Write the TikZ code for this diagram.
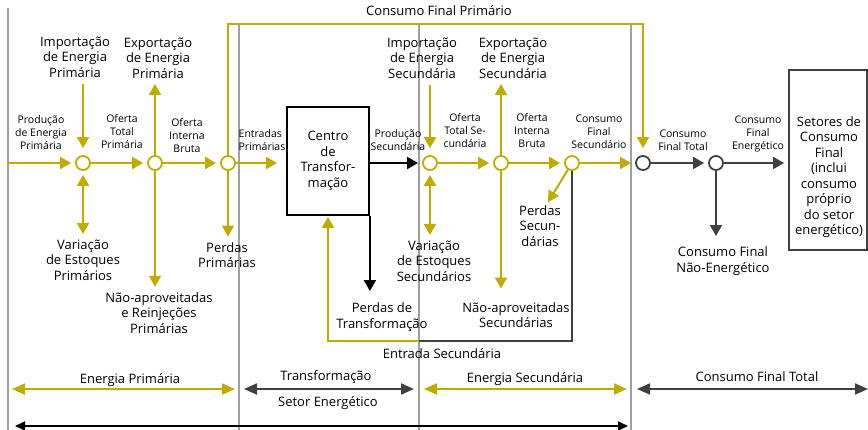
\documentclass[tikz,border=0pt]{standalone}
\usepackage{fontspec}
\setmainfont{Open Sans}
\usetikzlibrary{arrows.meta,positioning}
\definecolor{goldline}{RGB}{192,171,0}
\definecolor{darkline}{RGB}{64,64,64}
\definecolor{sepgray}{RGB}{160,160,160}
\tikzset{
  junc/.style={circle, draw=goldline, line width=1.8pt, fill=white,
               minimum size=14pt, inner sep=0pt},
  juncgray/.style={junc, draw=darkline},
  txtbig/.style={font=\fontsize{13}{15.5}\selectfont, align=center, inner sep=1.5pt},
  txtsmall/.style={font=\fontsize{10.5}{13}\selectfont, align=center, inner sep=1.5pt},
  centrobox/.style={rectangle, draw=black, line width=1.8pt, txtbig,
                    minimum width=82pt, minimum height=108pt},
  finalbox/.style={rectangle, draw=darkline, line width=1.8pt,
                   minimum width=78pt, minimum height=180pt},
  sepline/.style={line width=1.6pt, sepgray},
  arrowY/.style={-{Triangle[length=11pt,width=12pt]}, line width=2pt, goldline, shorten >=4pt},
  arrowYY/.style={{Triangle[length=11pt,width=12pt]}-{Triangle[length=11pt,width=12pt]},
                  line width=2pt, goldline, shorten >=4pt, shorten <=4pt},
  arrowK/.style={-{Triangle[length=11pt,width=12pt]}, line width=2pt, black, shorten >=4pt},
  arrowG/.style={-{Triangle[length=11pt,width=12pt]}, line width=2pt, darkline, shorten >=4pt},
  lineG/.style={line width=1.8pt, darkline},
  spanY/.style={{Triangle[length=13pt,width=11pt]}-{Triangle[length=13pt,width=11pt]},
                line width=2pt, goldline},
  spanG/.style={spanY, darkline},
  spanK/.style={{Triangle[length=10pt,width=9pt]}-{Triangle[length=10pt,width=9pt]},
                line width=1.8pt, black},
}

\begin{document}
\begin{tikzpicture}[x=1pt, y=-1pt]
\useasboundingbox (0,0) rectangle (868,430);

% separadores
\foreach \x/\y in {8/8, 239/24, 419/24, 631/24}
  \draw[sepline] (\x,\y) -- (\x,430);

% nos principais
\node[junc] (p1) at (83,163) {};
\node[junc] (p2) at (155,163) {};
\node[junc] (p3) at (228,163) {};
\node[centrobox] (centro) at (328,161) {Centro\\de\\Transfor-\\mação};
\node[junc] (s1) at (430,163) {};
\node[junc] (s2) at (501,163) {};
\node[junc] (s3) at (572,163) {};
\node[juncgray] (f1) at (643,163) {};
\node[juncgray] (f2) at (716,163) {};
\node[finalbox] (setores) at (828,160) {};
\node[txtbig] (setorestxt) at (829,177) {Setores de\\Consumo\\Final\\(inclui\\consumo\\próprio\\do setor\\energético)};

% energia primaria
\node[txtbig] (impP) at (75,57) {Importação\\de Energia\\Primária};
\node[txtbig] (expP) at (158,58) {Exportação\\de Energia\\Primária};
\node[txtsmall] (prodP) at (41,133) {Produção\\de Energia\\Primária};
\node[txtsmall] (otP) at (122,132) {Oferta\\Total\\Primária};
\node[txtsmall] (oibP) at (187,136) {Oferta\\Interna\\Bruta};
\node[txtsmall, align=left] (entP) at (262,140) {Entradas\\Primárias};
\node[txtbig] (varP) at (83,260) {Variação\\de Estoques\\Primários};
\node[txtbig] (naoP) at (159,313) {Não-aproveitadas\\e Reinjeções\\Primárias};
\node[txtbig] (perP) at (227,255) {Perdas\\Primárias};

% transformacao
\node[txtsmall] (prodS) at (398,140) {Produção\\Secundária};
\node[txtbig] (perT) at (382,317) {Perdas de\\Transformação};
\node[txtbig] (entS) at (442,354) {Entrada Secundária};

% energia secundaria
\node[txtbig] (impS) at (422,58) {Importação\\de Energia\\Secundária};
\node[txtbig] (expS) at (513,58) {Exportação\\de Energia\\Secundária};
\node[txtsmall] (otS) at (465,131) {Oferta\\Total Se-\\cundária};
\node[txtsmall] (oibS) at (532,131) {Oferta\\Interna\\Bruta};
\node[txtsmall] (cfS) at (599,132) {Consumo\\Final\\Secundário};
\node[txtbig] (perS) at (540,226) {Perdas\\Secun-\\dárias};
\node[txtbig] (varS) at (434,261) {Variação\\de Estoques\\Secundários};
\node[txtbig] (naoS) at (516,315) {Não-aproveitadas\\Secundárias};

% consumo final
\node[txtbig] (cfP) at (439,11) {Consumo Final Primário};
\node[txtsmall] (cfT) at (683,140) {Consumo\\Final Total};
\node[txtsmall] (cfE) at (758,134) {Consumo\\Final\\Energético};
\node[txtbig] (cfNE) at (723,261) {Consumo Final\\Não-Energético};

% faixas inferiores
\node[txtbig] (faixaEP) at (130,380) {Energia Primária};
\node[txtbig] (faixaTR) at (326,377) {Transformação};
\node[txtbig] (faixaSE) at (328,403) {Setor Energético};
\node[txtbig] (faixaES) at (525,379) {Energia Secundária};
\node[txtbig] (faixaCF) at (757,377) {Consumo Final Total};

\coordinate (entrada) at (8,163);
\coordinate (topo) at (435,24);
\coordinate (retorno) at (419,341);

% fluxo horizontal
\draw[arrowY] (entrada) -- (p1);
\foreach \a/\b in {p1/p2, p2/p3, s1/s2, s2/s3, s3/f1}
  \draw[arrowY] (\a) -- (\b);
\draw[arrowY, shorten >=9pt] (p3) -- (p3 -| centro.west);
\draw[arrowK] (centro.east |- s1) -- (s1);
\draw[arrowG] (f1) -- (f2);
\draw[arrowG] (f2) -- (f2 -| setores.west);

% ramos primarios
\draw[arrowY, shorten <=5pt, shorten >=7pt] (p1 |- impP.south) -- (p1);
\draw[arrowY] (p2) -- (p2 |- expP.south);
\draw[arrowYY] (p1) -- (p1 |- varP.north);
\draw[arrowY] (p2) -- (p2 |- naoP.north);
\draw[arrowY] (p3) -- (p3 |- perP.north);
\draw[arrowY, shorten >=7pt] (p3) |- (topo) -| (f1);

% ramos da transformacao
\draw[arrowK, shorten >=10pt] (centro.south east) -- (centro.south east |- perT.north);
\draw[lineG] (s3) |- (retorno);
\draw[arrowY, shorten >=1pt] (retorno) -| (centro.south);

% ramos secundarios
\draw[arrowY, shorten <=5pt, shorten >=7pt] (s1 |- impS.south) -- (s1);
\draw[arrowY] (s2) -- (s2 |- expS.south);
\draw[arrowYY] (s1) -- (s1 |- varS.north);
\draw[arrowY, shorten >=12pt] (s2) -- (s2 |- naoS.north);
\draw[arrowY, shorten >=2pt] (s3) -- ([xshift=7pt]perS.north);
\draw[arrowG, shorten >=9pt] (f2) -- (f2 |- cfNE.north);

% faixas
\coordinate (epL) at (12,389);  \coordinate (epR) at (235,389);
\coordinate (trL) at (244,389); \coordinate (trR) at (414,389);
\coordinate (esL) at (424,389); \coordinate (esR) at (627,389);
\coordinate (cfL) at (637,389); \coordinate (cfR) at (868,389);
\coordinate (seL) at (15,426);  \coordinate (seR) at (628,426);
\foreach \a/\b/\s in {epL/epR/spanY, trL/trR/spanG, esL/esR/spanY, cfL/cfR/spanG, seL/seR/spanK}
  \draw[\s] (\a) -- (\b);
\end{tikzpicture}
\end{document}
